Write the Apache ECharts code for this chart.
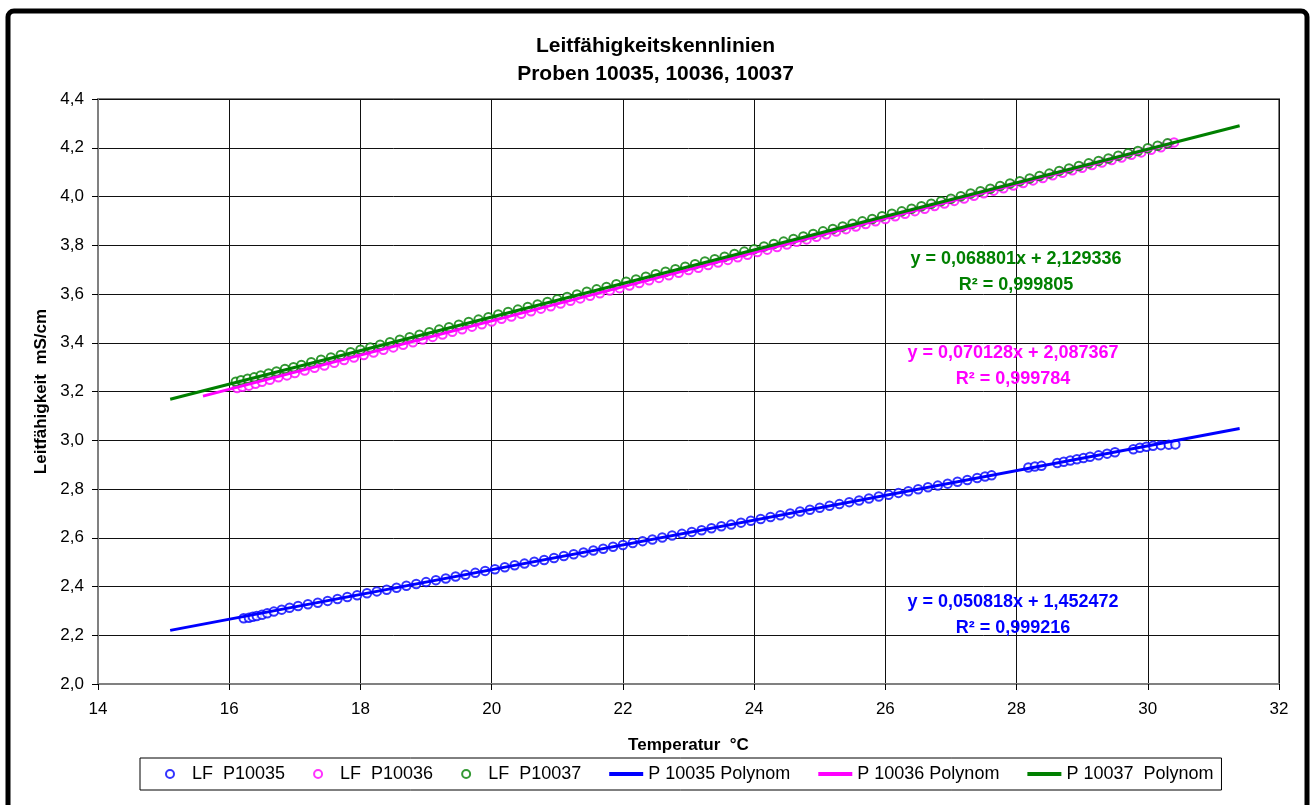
<!DOCTYPE html>
<html>
<head>
<meta charset="utf-8">
<title>Leitfähigkeitskennlinien</title>
<script src="https://cdn.jsdelivr.net/npm/echarts@6/dist/echarts.min.js"></script>
<style>
  html, body { margin: 0; padding: 0; background: #fff; }
  #main { width: 1311px; height: 805px; }
</style>
</head>
<body>
<div id="main"></div>
<script>
// Messpunkte [Temperatur °C, Leitfähigkeit mS/cm]
const lf10035 = [
  [16.22, 2.270], [16.30, 2.272], [16.36, 2.276], [16.42, 2.279], [16.50, 2.284], [16.58, 2.290],
  [16.68, 2.297], [16.80, 2.305], [16.92, 2.313], [17.05, 2.320], [17.20, 2.327], [17.35, 2.333],
  [17.50, 2.341], [17.65, 2.349], [17.80, 2.357], [17.95, 2.364], [18.10, 2.372], [18.25, 2.380],
  [18.40, 2.387], [18.55, 2.395], [18.70, 2.403], [18.85, 2.410], [19.00, 2.418], [19.15, 2.426],
  [19.30, 2.433], [19.45, 2.441], [19.60, 2.448], [19.75, 2.456], [19.90, 2.464], [20.05, 2.471],
  [20.20, 2.479], [20.35, 2.487], [20.50, 2.494], [20.65, 2.502], [20.80, 2.509], [20.95, 2.517],
  [21.10, 2.525], [21.25, 2.532], [21.40, 2.540], [21.55, 2.548], [21.70, 2.555], [21.85, 2.563],
  [22.00, 2.570], [22.15, 2.578], [22.30, 2.586], [22.45, 2.593], [22.60, 2.601], [22.75, 2.609],
  [22.90, 2.616], [23.05, 2.624], [23.20, 2.631], [23.35, 2.639], [23.50, 2.647], [23.65, 2.654],
  [23.80, 2.662], [23.95, 2.670], [24.10, 2.677], [24.25, 2.685], [24.40, 2.692], [24.55, 2.700],
  [24.70, 2.708], [24.85, 2.715], [25.00, 2.723], [25.15, 2.731], [25.30, 2.738], [25.45, 2.746],
  [25.60, 2.753], [25.75, 2.761], [25.90, 2.769], [26.05, 2.776], [26.20, 2.784], [26.35, 2.791],
  [26.50, 2.799], [26.65, 2.807], [26.80, 2.814], [26.95, 2.822], [27.10, 2.830], [27.25, 2.837],
  [27.40, 2.845], [27.52, 2.851], [27.62, 2.856],
  [28.18, 2.888], [28.28, 2.892], [28.38, 2.895], [28.62, 2.907], [28.72, 2.912], [28.82, 2.917],
  [28.92, 2.922], [29.02, 2.927], [29.12, 2.932], [29.25, 2.938], [29.38, 2.945], [29.50, 2.951],
  [29.78, 2.963], [29.88, 2.969], [29.98, 2.973], [30.08, 2.977], [30.20, 2.980], [30.32, 2.982],
  [30.42, 2.983]
];
const lf10036 = [
  [16.12, 3.214], [16.20, 3.219], [16.30, 3.224], [16.40, 3.232], [16.50, 3.240], [16.62, 3.248],
  [16.75, 3.258], [16.88, 3.266], [17.00, 3.276], [17.15, 3.286], [17.30, 3.297], [17.45, 3.307],
  [17.60, 3.318], [17.75, 3.329], [17.90, 3.339], [18.05, 3.350], [18.20, 3.360], [18.35, 3.371],
  [18.50, 3.381], [18.65, 3.392], [18.80, 3.402], [18.95, 3.413], [19.10, 3.424], [19.25, 3.434],
  [19.40, 3.445], [19.55, 3.455], [19.70, 3.466], [19.85, 3.476], [20.00, 3.487], [20.15, 3.498],
  [20.30, 3.508], [20.45, 3.519], [20.60, 3.529], [20.75, 3.540], [20.90, 3.550], [21.05, 3.561],
  [21.20, 3.572], [21.35, 3.582], [21.50, 3.593], [21.65, 3.603], [21.80, 3.614], [21.95, 3.624],
  [22.10, 3.635], [22.25, 3.645], [22.40, 3.656], [22.55, 3.666], [22.70, 3.677], [22.85, 3.687],
  [23.00, 3.698], [23.15, 3.708], [23.30, 3.719], [23.45, 3.729], [23.60, 3.740], [23.75, 3.751],
  [23.90, 3.761], [24.05, 3.772], [24.20, 3.782], [24.35, 3.793], [24.50, 3.803], [24.65, 3.814],
  [24.80, 3.824], [24.95, 3.835], [25.10, 3.845], [25.25, 3.856], [25.40, 3.866], [25.55, 3.877],
  [25.70, 3.887], [25.85, 3.898], [26.00, 3.908], [26.15, 3.919], [26.30, 3.929], [26.45, 3.940],
  [26.60, 3.950], [26.75, 3.961], [26.90, 3.971], [27.05, 3.982], [27.20, 3.992], [27.35, 4.003],
  [27.50, 4.013], [27.65, 4.024], [27.80, 4.034], [27.95, 4.045], [28.10, 4.055], [28.25, 4.066],
  [28.40, 4.076], [28.55, 4.087], [28.70, 4.097], [28.85, 4.108], [29.00, 4.118], [29.15, 4.129],
  [29.30, 4.139], [29.45, 4.150], [29.60, 4.160], [29.75, 4.171], [29.90, 4.181], [30.05, 4.192],
  [30.20, 4.202], [30.32, 4.216], [30.40, 4.222]
];
const lf10037 = [
  [16.10, 3.240], [16.18, 3.246], [16.28, 3.252], [16.38, 3.258], [16.48, 3.266], [16.60, 3.274],
  [16.72, 3.282], [16.85, 3.292], [16.98, 3.300], [17.10, 3.309], [17.25, 3.320], [17.40, 3.330],
  [17.55, 3.340], [17.70, 3.350], [17.85, 3.361], [18.00, 3.371], [18.15, 3.381], [18.30, 3.392],
  [18.45, 3.402], [18.60, 3.412], [18.75, 3.423], [18.90, 3.433], [19.05, 3.443], [19.20, 3.454],
  [19.35, 3.464], [19.50, 3.474], [19.65, 3.485], [19.80, 3.495], [19.95, 3.505], [20.10, 3.516],
  [20.25, 3.526], [20.40, 3.536], [20.55, 3.547], [20.70, 3.557], [20.85, 3.567], [21.00, 3.578],
  [21.15, 3.588], [21.30, 3.598], [21.45, 3.609], [21.60, 3.619], [21.75, 3.629], [21.90, 3.640],
  [22.05, 3.650], [22.20, 3.660], [22.35, 3.671], [22.50, 3.681], [22.65, 3.691], [22.80, 3.702],
  [22.95, 3.712], [23.10, 3.722], [23.25, 3.733], [23.40, 3.743], [23.55, 3.753], [23.70, 3.764],
  [23.85, 3.774], [24.00, 3.784], [24.15, 3.795], [24.30, 3.805], [24.45, 3.815], [24.60, 3.826],
  [24.75, 3.836], [24.90, 3.846], [25.05, 3.857], [25.20, 3.867], [25.35, 3.877], [25.50, 3.888],
  [25.65, 3.898], [25.80, 3.908], [25.95, 3.919], [26.10, 3.929], [26.25, 3.939], [26.40, 3.950],
  [26.55, 3.960], [26.70, 3.970], [26.85, 3.981], [27.00, 3.991], [27.15, 4.001], [27.30, 4.012],
  [27.45, 4.022], [27.60, 4.032], [27.75, 4.043], [27.90, 4.053], [28.05, 4.063], [28.20, 4.074],
  [28.35, 4.084], [28.50, 4.094], [28.65, 4.105], [28.80, 4.115], [28.95, 4.125], [29.10, 4.136],
  [29.25, 4.146], [29.40, 4.156], [29.55, 4.167], [29.70, 4.177], [29.85, 4.187], [30.00, 4.198],
  [30.15, 4.208], [30.30, 4.218]
];

// Trendlinien (Anfangs- und Endpunkt)
const trend10035 = [[15.1, 2.220], [31.4, 3.048]];
const trend10036 = [[15.6, 3.181], [30.4, 4.219]];
const trend10037 = [[15.1, 3.168], [31.4, 4.290]];

const equations = [
  { eq: 'y = 0,068801x + 2,129336', r2: 'R² = 0,999805', color: '#008000', x: 1016, y: 259 },
  { eq: 'y = 0,070128x + 2,087367', r2: 'R² = 0,999784', color: '#ff00ff', x: 1013, y: 353 },
  { eq: 'y = 0,050818x + 1,452472', r2: 'R² = 0,999216', color: '#0000ff', x: 1013, y: 602 }
];

const FONT = '"Liberation Sans", Arial, sans-serif';
const LINE_ICON = 'path://M0,0H36V4H0Z';
const chart = echarts.init(document.getElementById('main'));

const scatter = (name, data, color) => ({
  name, type: 'scatter', data,
  symbol: 'emptyCircle', symbolSize: 8.5,
  itemStyle: { color, borderColor: color, borderWidth: 2.7 },
  emphasis: { disabled: true }
});
const trend = (name, data, color) => ({
  name, type: 'line', data,
  symbol: 'none', color,
  lineStyle: { color, width: 3 },
  emphasis: { disabled: true }
});

const eqGraphics = [];
equations.forEach(e => {
  eqGraphics.push({
    type: 'text', x: e.x, y: e.y, z: 100,
    style: { text: e.eq, fill: e.color, font: 'bold 18px ' + FONT, textAlign: 'center', textVerticalAlign: 'middle' }
  });
  eqGraphics.push({
    type: 'text', x: e.x, y: e.y + 26, z: 100,
    style: { text: e.r2, fill: e.color, font: 'bold 18px ' + FONT, textAlign: 'center', textVerticalAlign: 'middle' }
  });
});

const option = {
  animation: false,
  backgroundColor: '#fff',
  textStyle: { fontFamily: FONT },
  title: {
    text: 'Leitfähigkeitskennlinien\nProben 10035, 10036, 10037',
    left: 'center', top: 27,
    textStyle: { fontSize: 21, fontWeight: 'bold', color: '#000', lineHeight: 28, fontFamily: FONT }
  },
  grid: {
    left: 98, right: 32, top: 99, bottom: 121,
    show: true, borderColor: '#808080', borderWidth: 2, backgroundColor: '#fff'
  },
  xAxis: {
    type: 'value', min: 14, max: 32, interval: 2,
    name: 'Temperatur  °C', nameLocation: 'middle', nameGap: 53,
    nameTextStyle: { fontSize: 17, fontWeight: 'bold', color: '#000', fontFamily: FONT },
    axisLine: { lineStyle: { color: '#808080', width: 2 } },
    axisTick: { show: true, inside: false, length: 6, lineStyle: { color: '#000' } },
    axisLabel: { fontSize: 17, color: '#000', margin: 17, fontFamily: FONT },
    splitLine: { show: true, lineStyle: { color: '#111', width: 1 } }
  },
  yAxis: {
    type: 'value', min: 2.0, max: 4.4, interval: 0.2,
    name: 'Leitfähigkeit  mS/cm', nameLocation: 'middle', nameGap: 48,
    nameTextStyle: { fontSize: 17, fontWeight: 'bold', color: '#000', fontFamily: FONT },
    axisLine: { show: true, lineStyle: { color: '#808080', width: 2 } },
    axisTick: { show: true, inside: false, length: 6, lineStyle: { color: '#000' } },
    axisLabel: { fontSize: 17, color: '#000', margin: 14, fontFamily: FONT, formatter: v => v.toFixed(1).replace('.', ',') },
    splitLine: { show: true, lineStyle: { color: '#111', width: 1 } }
  },
  legend: {
    left: 140, top: 758,
    padding: [7, 8, 7, 25],
    borderColor: '#000', borderWidth: 1,
    itemGap: 28, itemWidth: 34, itemHeight: 8,
    textStyle: { fontSize: 18, color: '#000', fontFamily: FONT },
    data: [
      { name: 'LF  P10035' },
      { name: 'LF  P10036' },
      { name: 'LF  P10037' },
      { name: 'P 10035 Polynom', icon: LINE_ICON },
      { name: 'P 10036 Polynom', icon: LINE_ICON },
      { name: 'P 10037  Polynom', icon: LINE_ICON }
    ]
  },
  graphic: [
    {
      type: 'rect', z: 100, silent: true,
      shape: { x: 8, y: 11, width: 1299, height: 840, r: 6 },
      style: { fill: 'none', stroke: '#000', lineWidth: 5 }
    }
  ].concat(eqGraphics),
  series: [
    scatter('LF  P10035', lf10035, '#0000ff'),
    scatter('LF  P10036', lf10036, '#ff00ff'),
    scatter('LF  P10037', lf10037, '#008000'),
    trend('P 10035 Polynom', trend10035, '#0000ff'),
    trend('P 10036 Polynom', trend10036, '#ff00ff'),
    trend('P 10037  Polynom', trend10037, '#008000')
  ]
};

chart.setOption(option);
</script>
</body>
</html>
